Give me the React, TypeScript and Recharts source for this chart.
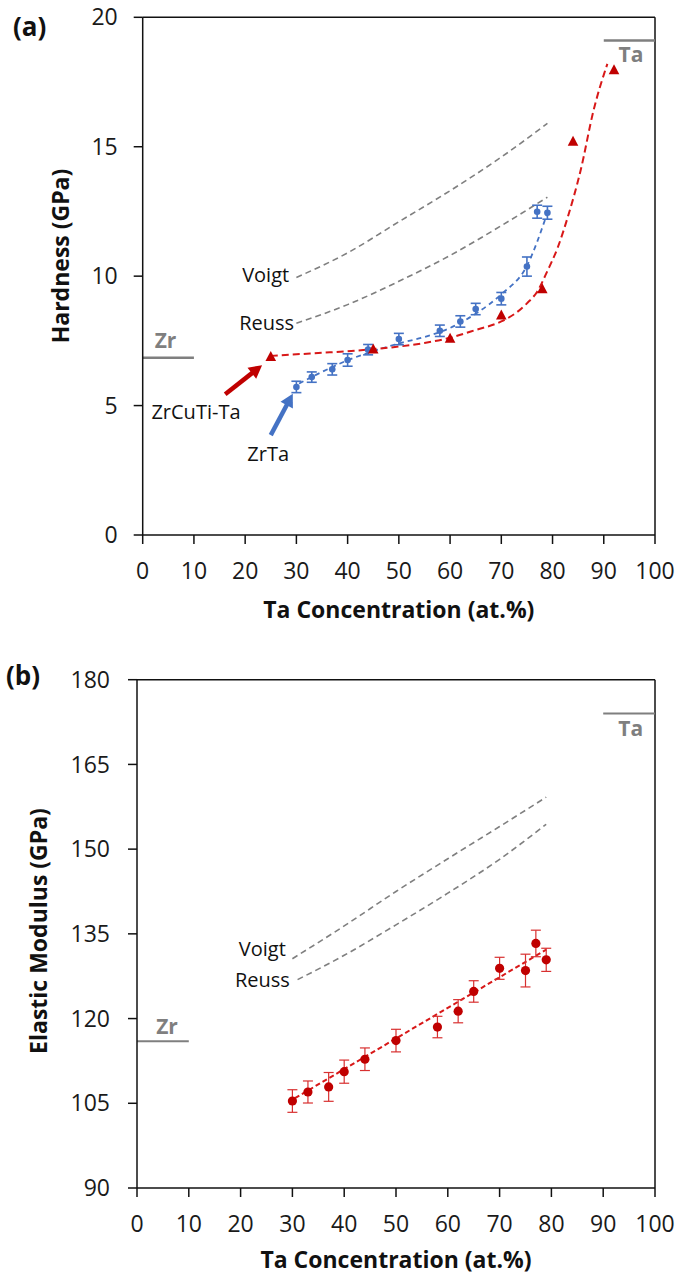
import React from 'react';
import {
  ComposedChart,
  XAxis,
  YAxis,
  Line,
  Scatter,
  ErrorBar,
  ReferenceLine,
  ReferenceDot,
} from 'recharts';

// ---------- data ----------
const xTicks = [0, 10, 20, 30, 40, 50, 60, 70, 80, 90, 100];
const hardTicks = [0, 5, 10, 15, 20];
const modTicks = [90, 105, 120, 135, 150, 165, 180];

// (a) ZrTa hardness
const zrTaX = [30, 33, 37, 40, 44, 50, 58, 62, 65, 70, 75, 77, 79];
const zrTaH = [5.72, 6.1, 6.4, 6.76, 7.16, 7.57, 7.89, 8.25, 8.73, 9.13, 10.37, 12.49, 12.45];
const zrTaHErr = [0.22, 0.2, 0.22, 0.24, 0.2, 0.22, 0.22, 0.22, 0.22, 0.24, 0.37, 0.25, 0.25];

// (a) ZrCuTi-Ta hardness
const zrCuTiTaX = [25, 45, 60, 70, 78, 84, 92];
const zrCuTiTaH = [6.88, 7.17, 7.58, 8.48, 9.49, 15.19, 17.95];

// (a) fitted trends
const zrTaFitX = [30.5, 35, 40, 45, 50, 55, 60, 65, 70, 75, 79];
const zrTaFitH = [5.85, 6.3, 6.75, 7.1, 7.4, 7.65, 8.0, 8.55, 9.3, 10.4, 12.45];
const zrCuTiTaFitX = [25, 30, 35, 40, 45, 50, 55, 60, 65, 70, 73, 75, 77, 79, 81, 83, 85.5, 88, 90.7];
const zrCuTiTaFitH = [6.92, 6.98, 7.04, 7.1, 7.18, 7.28, 7.42, 7.62, 7.92, 8.25, 8.6, 8.95, 9.4, 10.2, 11.1, 12.3, 14.1, 16.4, 18.2];

// (a) Voigt / Reuss bounds
const boundHX = [30, 40, 50, 60, 70, 79];
const voigtH = [9.95, 10.9, 12.1, 13.3, 14.6, 15.9];
const reussH = [8.18, 8.9, 9.8, 10.8, 11.95, 13.05];

// (a) pure elements
const zrHard = 6.85;
const taHard = 19.1;

// (b) ZrTa modulus
const modX = [30, 33, 37, 40, 44, 50, 58, 62, 65, 70, 75, 77, 79];
const modE = [105.4, 107.0, 107.9, 110.6, 112.8, 116.1, 118.5, 121.3, 124.8, 128.9, 128.5, 133.3, 130.4];
const modErr = [2.0, 1.95, 2.55, 2.05, 2.0, 2.0, 1.9, 2.05, 1.9, 1.95, 2.9, 2.35, 2.05];

// (b) linear trend
const modFitX = [30.5, 79];
const modFitE = [105.9, 132.2];

// (b) Voigt / Reuss bounds
const voigtEX = [30, 40, 50, 60, 70, 79];
const voigtE = [130.6, 136.4, 142.5, 148.3, 154.0, 159.2];
const reussEX = [31, 40, 50, 60, 70, 79];
const reussE = [126.9, 131.2, 136.6, 142.2, 148.2, 154.4];

// (b) pure elements
const zrMod = 116;
const taMod = 174;

// ---------- helpers ----------
const pts = (xs: number[], ys: number[], errs?: number[]) =>
  xs.map((x, i) => (errs ? { x, y: ys[i], err: errs[i] } : { x, y: ys[i] }));

const FONT = "'Open Sans', 'Noto Sans', 'DejaVu Sans', sans-serif";
const RED = '#C00000';
const RED_LINE = '#D81818';
const BLUE = '#4472C4';
const GREY = '#7F7F7F';
const AXIS = '#111';

const tickStyle = { fontFamily: FONT, fontSize: 23, fill: '#1a1a1a' };

const textShape =
  (text: string, opts: { size?: number; bold?: boolean; color?: string } = {}) =>
  (p: any) =>
    (
      <text
        x={p.cx}
        y={p.cy}
        dy="0.36em"
        textAnchor="middle"
        fontFamily={FONT}
        fontSize={opts.size ?? 20}
        fontWeight={opts.bold ? 700 : 400}
        fill={opts.color ?? '#111'}
      >
        {text}
      </text>
    );

const arrowShape = (color: string) => (p: any) => {
  const { x1, y1, x2, y2 } = p;
  if ([x1, y1, x2, y2].some((v) => typeof v !== 'number' || isNaN(v))) return <g />;
  const dx = x2 - x1;
  const dy = y2 - y1;
  const L = Math.hypot(dx, dy) || 1;
  const ux = dx / L;
  const uy = dy / L;
  const hl = 13;
  const hw = 7;
  const bx = x2 - ux * hl;
  const by = y2 - uy * hl;
  const px = -uy;
  const py = ux;
  return (
    <g>
      <line x1={x1} y1={y1} x2={bx + ux} y2={by + uy} stroke={color} strokeWidth={4.5} />
      <polygon
        points={`${x2},${y2} ${bx + px * hw},${by + py * hw} ${bx - px * hw},${by - py * hw}`}
        fill={color}
      />
    </g>
  );
};

const triangleShape = (p: any) => {
  const { cx, cy } = p;
  return <polygon points={`${cx},${cy - 6} ${cx - 5.3},${cy + 4} ${cx + 5.3},${cy + 4}`} fill={RED} />;
};
const smallCircle = (p: any) => <circle cx={p.cx} cy={p.cy} r={3.3} fill={BLUE} />;
const bigCircle = (p: any) => <circle cx={p.cx} cy={p.cy} r={4.6} fill={RED} />;

const xTitle = (offset: number) => (props: any) => {
  const vb = props.viewBox || {};
  return (
    <text
      x={vb.x + vb.width / 2}
      y={vb.y + offset}
      textAnchor="middle"
      fontFamily={FONT}
      fontSize={23}
      fontWeight={700}
      fill="#111"
    >
      Ta Concentration (at.%)
    </text>
  );
};
const yTitle = (text: string, cx: number, cy: number) => () =>
  (
    <text
      x={0}
      y={0}
      transform={`translate(${cx},${cy}) rotate(-90)`}
      dy="0.36em"
      textAnchor="middle"
      fontFamily={FONT}
      fontSize={23}
      fontWeight={700}
      fill="#111"
    >
      {text}
    </text>
  );

const W = 678;

function HardnessChart() {
  return (
    <ComposedChart
      width={W}
      height={640}
      margin={{ top: 17.3, right: 23, bottom: 45, left: 62.7 }}
    >
      <XAxis
        type="number"
        dataKey="x"
        domain={[0, 100]}
        ticks={xTicks}
        interval={0}
        tick={tickStyle}
        tickSize={9}
        tickMargin={19}
        height={60}
        axisLine={{ stroke: AXIS, strokeWidth: 1.5 }}
        tickLine={{ stroke: AXIS, strokeWidth: 1.5 }}
        label={{ content: xTitle(83) }}
      />
      <YAxis
        type="number"
        domain={[0, 20]}
        ticks={hardTicks}
        interval={0}
        tick={tickStyle}
        tickSize={9}
        tickMargin={16}
        width={80}
        axisLine={{ stroke: AXIS, strokeWidth: 1.5 }}
        tickLine={{ stroke: AXIS, strokeWidth: 1.5 }}
        label={{ content: yTitle('Hardness (GPa)', 61, 256) }}
      />
      <ReferenceLine y={20} stroke={AXIS} strokeWidth={1.5} />
      <ReferenceLine x={100} stroke={AXIS} strokeWidth={1.5} />

      <Line data={pts(boundHX, voigtH)} dataKey="y" type="monotone" stroke={GREY} strokeWidth={1.6} strokeDasharray="6 4" dot={false} isAnimationActive={false} />
      <Line data={pts(boundHX, reussH)} dataKey="y" type="monotone" stroke={GREY} strokeWidth={1.6} strokeDasharray="6 4" dot={false} isAnimationActive={false} />
      <Line data={pts(zrTaFitX, zrTaFitH)} dataKey="y" type="monotone" stroke={BLUE} strokeWidth={1.8} strokeDasharray="5 4" dot={false} isAnimationActive={false} />
      <Line data={pts(zrCuTiTaFitX, zrCuTiTaFitH)} dataKey="y" type="monotone" stroke={RED_LINE} strokeWidth={2} strokeDasharray="7 4" dot={false} isAnimationActive={false} />

      <Scatter data={pts(zrTaX, zrTaH, zrTaHErr)} dataKey="y" shape={smallCircle} isAnimationActive={false}>
        <ErrorBar dataKey="err" direction="y" width={5} stroke={BLUE} strokeWidth={1.6} />
      </Scatter>
      <Scatter data={pts(zrCuTiTaX, zrCuTiTaH)} dataKey="y" shape={triangleShape} isAnimationActive={false} />

      <ReferenceLine segment={[{ x: 0, y: zrHard }, { x: 10, y: zrHard }]} stroke={GREY} strokeWidth={2.5} />
      <ReferenceLine segment={[{ x: 90, y: taHard }, { x: 100, y: taHard }]} stroke={GREY} strokeWidth={2.5} />

      <ReferenceLine segment={[{ x: 16.1, y: 5.44 }, { x: 23.3, y: 6.56 }]} shape={arrowShape(RED)} />
      <ReferenceLine segment={[{ x: 25.0, y: 3.86 }, { x: 29.3, y: 5.46 }]} shape={arrowShape(BLUE)} />

      <ReferenceDot x={24.0} y={10.06} r={0} shape={textShape('Voigt')} />
      <ReferenceDot x={24.2} y={8.19} r={0} shape={textShape('Reuss')} />
      <ReferenceDot x={10.4} y={4.75} r={0} shape={textShape('ZrCuTi-Ta')} />
      <ReferenceDot x={24.5} y={3.13} r={0} shape={textShape('ZrTa')} />
      <ReferenceDot x={4.45} y={7.51} r={0} shape={textShape('Zr', { bold: true, color: GREY, size: 21 })} />
      <ReferenceDot x={95.3} y={18.56} r={0} shape={textShape('Ta', { bold: true, color: GREY, size: 21 })} />
    </ComposedChart>
  );
}

function ModulusChart() {
  return (
    <ComposedChart
      width={W}
      height={627}
      margin={{ top: 29.7, right: 23, bottom: 29, left: 57 }}
    >
      <XAxis
        type="number"
        dataKey="x"
        domain={[0, 100]}
        ticks={xTicks}
        interval={0}
        tick={tickStyle}
        tickSize={9}
        tickMargin={19}
        height={60}
        axisLine={{ stroke: AXIS, strokeWidth: 1.5 }}
        tickLine={{ stroke: AXIS, strokeWidth: 1.5 }}
        label={{ content: xTitle(80) }}
      />
      <YAxis
        type="number"
        domain={[90, 180]}
        ticks={modTicks}
        interval={0}
        tick={tickStyle}
        tickSize={9}
        tickMargin={18}
        width={80}
        axisLine={{ stroke: AXIS, strokeWidth: 1.5 }}
        tickLine={{ stroke: AXIS, strokeWidth: 1.5 }}
        label={{ content: yTitle('Elastic Modulus (GPa)', 39, 281) }}
      />
      <ReferenceLine y={180} stroke={AXIS} strokeWidth={1.5} />
      <ReferenceLine x={100} stroke={AXIS} strokeWidth={1.5} />

      <Line data={pts(voigtEX, voigtE)} dataKey="y" type="monotone" stroke={GREY} strokeWidth={1.6} strokeDasharray="6 4" dot={false} isAnimationActive={false} />
      <Line data={pts(reussEX, reussE)} dataKey="y" type="monotone" stroke={GREY} strokeWidth={1.6} strokeDasharray="6 4" dot={false} isAnimationActive={false} />
      <Line data={pts(modFitX, modFitE)} dataKey="y" type="linear" stroke={RED_LINE} strokeWidth={2} strokeDasharray="5 3" dot={false} isAnimationActive={false} />

      <Scatter data={pts(modX, modE, modErr)} dataKey="y" shape={bigCircle} isAnimationActive={false}>
        <ErrorBar dataKey="err" direction="y" width={5} stroke="#D83030" strokeWidth={1.2} />
      </Scatter>

      <ReferenceLine segment={[{ x: 0, y: zrMod }, { x: 10, y: zrMod }]} stroke={GREY} strokeWidth={2} />
      <ReferenceLine segment={[{ x: 90, y: taMod }, { x: 100, y: taMod }]} stroke={GREY} strokeWidth={2} />

      <ReferenceDot x={24.2} y={132.3} r={0} shape={textShape('Voigt')} />
      <ReferenceDot x={24.2} y={126.8} r={0} shape={textShape('Reuss')} />
      <ReferenceDot x={5.8} y={118.6} r={0} shape={textShape('Zr', { bold: true, color: GREY, size: 21 })} />
      <ReferenceDot x={95.3} y={171.4} r={0} shape={textShape('Ta', { bold: true, color: GREY, size: 21 })} />
    </ComposedChart>
  );
}

const panelLabel: React.CSSProperties = {
  position: 'absolute',
  fontFamily: FONT,
  fontWeight: 700,
  fontSize: 26,
  lineHeight: '26px',
  color: '#111',
};

export default function App() {
  return (
    <div style={{ position: 'absolute', left: 0, top: 0, width: W, height: 1277, background: '#fff' }}>
      <div style={{ position: 'absolute', left: 0, top: 0 }}>
        <HardnessChart />
      </div>
      <div style={{ position: 'absolute', left: 0, top: 650 }}>
        <ModulusChart />
      </div>
      <div style={{ ...panelLabel, left: 13, top: 13 }}>(a)</div>
      <div style={{ ...panelLabel, left: 6, top: 662 }}>(b)</div>
    </div>
  );
}
